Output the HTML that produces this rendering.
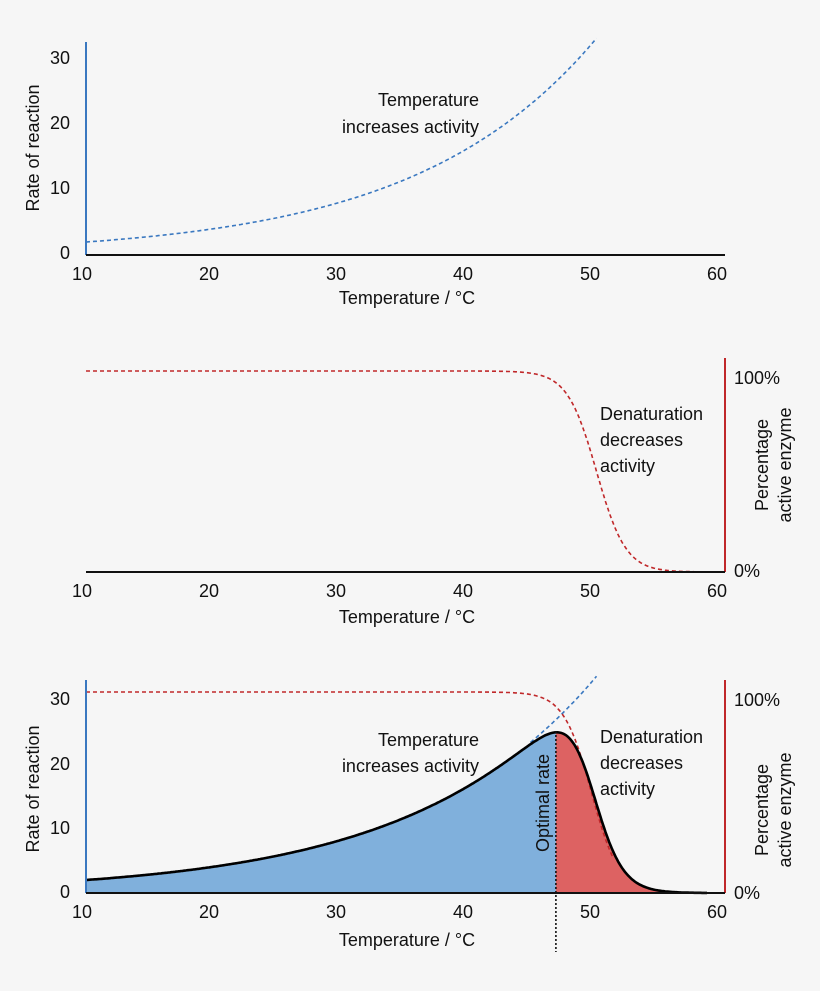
<!DOCTYPE html>
<html><head><style>
html,body{margin:0;padding:0;background:#f6f6f6}
svg{display:block}
text{font-family:"Liberation Sans",Arial,sans-serif;font-size:18px;fill:#111}
</style></head><body>
<svg id="s" width="820" height="991" viewBox="0 0 820 991">
<rect width="820" height="991" fill="#f6f6f6"/>
<path id="fillB" fill="#80b0dc"/>
<path id="fillR" fill="#dd6262"/>
<path id="exp1" fill="none" stroke="#3a78c0" stroke-width="1.6" stroke-dasharray="4,3"/>
<path id="sig2" fill="none" stroke="#c0282a" stroke-width="1.6" stroke-dasharray="4,3"/>
<path id="exp3" fill="none" stroke="#3a78c0" stroke-width="1.6" stroke-dasharray="4,3"/>
<path id="sig3" fill="none" stroke="#c0282a" stroke-width="1.6" stroke-dasharray="4,3"/>
<path id="prod" fill="none" stroke="#000" stroke-width="2.6"/>
<line x1="86" y1="42" x2="86" y2="255" stroke="#3a78c0" stroke-width="2"/>
<line x1="86" y1="255" x2="725" y2="255" stroke="#111" stroke-width="2"/>
<line x1="725" y1="358" x2="725" y2="572" stroke="#c0282a" stroke-width="2"/>
<line x1="86" y1="572" x2="725" y2="572" stroke="#111" stroke-width="2"/>
<line x1="86" y1="680" x2="86" y2="893" stroke="#3a78c0" stroke-width="2"/>
<line x1="725" y1="680" x2="725" y2="893" stroke="#c0282a" stroke-width="2"/>
<line x1="86" y1="893" x2="725" y2="893" stroke="#111" stroke-width="2"/>
<line id="opt" x1="556" y1="731" x2="556" y2="952" stroke="#111" stroke-width="1.6" stroke-dasharray="2,2"/>
<g id="labels"></g>
<g text-anchor="end">
<text x="70" y="64">30</text><text x="70" y="129">20</text><text x="70" y="194">10</text><text x="70" y="259">0</text>
<text x="70" y="705">30</text><text x="70" y="770">20</text><text x="70" y="834">10</text><text x="70" y="898">0</text>
<text x="479" y="106">Temperature</text><text x="479" y="133">increases activity</text>
<text x="479" y="746">Temperature</text><text x="479" y="772">increases activity</text>
</g>
<text x="734" y="384">100%</text><text x="734" y="577">0%</text>
<text x="734" y="706">100%</text><text x="734" y="899">0%</text>
<text x="600" y="420">Denaturation</text><text x="600" y="446">decreases</text><text x="600" y="472">activity</text>
<text x="600" y="743">Denaturation</text><text x="600" y="769">decreases</text><text x="600" y="795">activity</text>
<g text-anchor="middle">
<text x="407" y="304">Temperature / °C</text>
<text x="407" y="623">Temperature / °C</text>
<text x="407" y="946">Temperature / °C</text>
<text transform="translate(39,148) rotate(-90)">Rate of reaction</text>
<text transform="translate(39,789) rotate(-90)">Rate of reaction</text>
<text transform="translate(549,803) rotate(-90)">Optimal rate</text>
<text transform="translate(768,465) rotate(-90)">Percentage</text>
<text transform="translate(791,465) rotate(-90)">active enzyme</text>
<text transform="translate(768,810) rotate(-90)">Percentage</text>
<text transform="translate(791,810) rotate(-90)">active enzyme</text>
</g>
</svg>
<script>
var X=function(t){return 86+(t-10)*12.7;};
var ex=function(t){return 2*Math.exp(0.07*(t-10));};
var sg=function(t){return 1/(1+Math.exp((t-50.2)/1.15));};
var sg3=function(t){return 1/(1+Math.exp((t-49.8)/1.1));};
function path(f,a,b){var d="";for(var t=a;t<=b+1e-9;t+=0.1){d+=(d?"L":"M")+X(t).toFixed(1)+","+f(t).toFixed(1);}return d;}
document.getElementById("exp1").setAttribute("d",path(function(t){return 255-6.5*ex(t);},10,50.2));
document.getElementById("sig2").setAttribute("d",path(function(t){return 572-201*sg(t);},10,58.5));
document.getElementById("exp3").setAttribute("d",path(function(t){return 893-6.5*ex(t);},45,50.2));
document.getElementById("sig3").setAttribute("d",path(function(t){return 893-201*sg3(t);},10,51.5));
var pr=function(t){return 893-6.5*ex(t)*sg3(t);};
document.getElementById("prod").setAttribute("d",path(pr,10,58.9));
var topt=47.0;
document.getElementById("opt").setAttribute("x1",X(topt));document.getElementById("opt").setAttribute("x2",X(topt));
document.getElementById("fillB").setAttribute("d",path(pr,10,topt)+"L"+X(topt)+",893L86,893Z");
document.getElementById("fillR").setAttribute("d",path(pr,topt,58.9)+"L"+X(58.9)+",893L"+X(topt)+",893Z");
var g=document.getElementById("labels"),ys=[280,597,918];
ys.forEach(function(y){[10,20,30,40,50,60].forEach(function(t){var e=document.createElementNS("http://www.w3.org/2000/svg","text");e.setAttribute("x",X(t)-4);e.setAttribute("y",y);e.setAttribute("text-anchor","middle");e.textContent=t;g.appendChild(e);});});
</script>
</body></html>
